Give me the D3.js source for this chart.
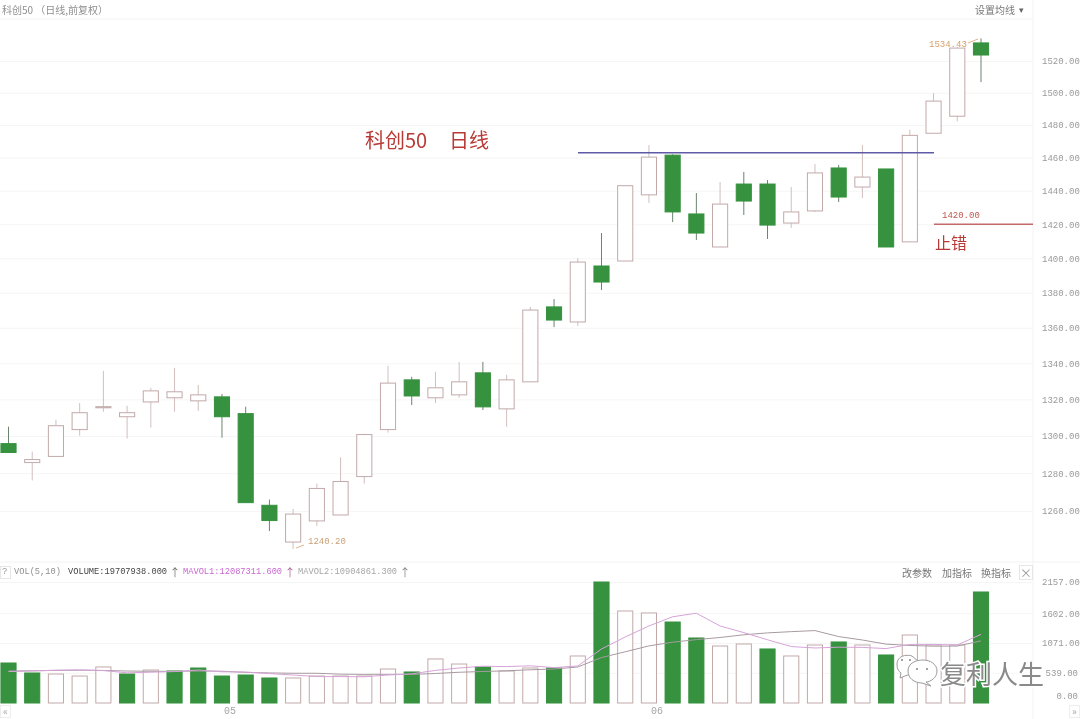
<!DOCTYPE html>
<html>
<head>
<meta charset="utf-8">
<script src="https://cdn.jsdelivr.net/npm/d3@7"></script>
<style>
  html, body { margin: 0; padding: 0; background: #fff; }
  svg { display: block; filter: blur(0.35px); }
  text { font-family: "Liberation Mono", monospace; }
  .cjk { font-family: "Noto Sans CJK SC", sans-serif; }
</style>
</head>
<body>
<svg id="chart" width="1080" height="719"></svg>
<script>
// Daily bars, in price units
const days = d3.range(1, 43);
const opens = [1295.9,1285.7,1289,1303.5,1315.4,1310.5,1318.6,1320.9,1319.2,1321.4,1312.2,1263,1243.8,1254.8,1257.9,1278.2,1303.5,1330.8,1320.9,1322.5,1334.7,1314.8,1329.7,1371.9,1363.3,1395.5,1398.4,1437.5,1461.5,1426.1,1406.6,1444,1444,1420.7,1427.9,1453.7,1442.2,1453.1,1409.6,1474.9,1485.4,1531.5];
const highs = [1305.1,1291.6,1308.9,1318,1335.8,1316.5,1326.4,1337.5,1328,1323,1316,1266,1261,1274.5,1288.5,1301.3,1338.6,1332.5,1335.3,1340.8,1340.8,1333.6,1371.9,1376.4,1400.1,1414.8,1443,1467.7,1462,1438.6,1445.2,1451.3,1446.4,1442.2,1456.1,1455.5,1467.7,1453.1,1477.1,1499.8,1528.8,1534.4];
const lows = [1291.1,1276.1,1289,1300.2,1313.2,1298.6,1304.6,1313.2,1313.7,1299.1,1264.4,1249.5,1240.2,1252.2,1257.9,1274.5,1301.9,1316.9,1318,1320.9,1314.2,1305,1329.7,1360.4,1361,1381.6,1398.4,1432.7,1421.3,1410.7,1406.6,1425.5,1411.3,1417.8,1427.3,1433.2,1435.6,1406.6,1409.6,1474.9,1482.3,1506.7];
const closes = [1291.1,1287.3,1305.6,1312.7,1316,1312.7,1324.7,1324.2,1322.5,1310.5,1264.4,1255,1258.4,1271.9,1275.6,1300.8,1329,1321.9,1326.4,1329.7,1315.9,1330.8,1370.1,1364.4,1397.8,1386.2,1443,1460.3,1427.3,1414.8,1432,1433.8,1419.5,1427.3,1450.7,1436.2,1448.2,1406.6,1473.6,1494.8,1528.2,1523.8];

// Volume panel, in units of 10 000
const volumes = [713,535,517,481,642,517,588,571,624,481,499,446,446,481,481,481,606,553,785,695,642,571,624,624,838,2157,1640,1605,1444,1159,1016,1052,963,838,1034,1088,1034,856,1212,1034,1034,1979];
const greenVolumeDays = [1,2,6,8,9,10,11,12,18,21,24,26,29,30,33,36,38,42];
const mavol1 = [560,570,585,590,578,538,549,560,588,556,553,524,499,471,471,467,499,520,581,624,656,649,663,631,660,963,1177,1373,1537,1601,1373,1255,1127,1006,981,995,991,970,1045,1045,1034,1223];
const mavol2 = [570,575,580,585,580,570,565,565,570,567,545,536,530,530,514,510,512,510,526,548,562,574,592,606,642,810,913,1018,1084,1130,1168,1216,1250,1272,1291,1184,1123,1049,1026,1013,1015,1107];

const priceTicks = [1260,1280,1300,1320,1340,1360,1380,1400,1420,1440,1460,1480,1500,1520];
const volumeTicks = [0,539,1071,1602,2157];
const monthDays = [10, 28];
const monthLabels = ["05", "06"];
const resistance = 1463;
const stopLoss = 1420;

const upStroke = "#c2a9a9", upWick = "#d2bfbf", downFill = "#36923f", downWick = "#6b8470";

const svg = d3.select("#chart");
const plotRight = 1033;

const x = d3.scaleBand().domain(days).range([-3.36, 992.86]).paddingInner(0.32).paddingOuter(0.16);
const y = d3.scaleLog().domain([1260, 1520]).range([511, 61]);
const yVol = d3.scaleLinear().domain([0, 2157]).range([703, 582]);
const cx = d => x(d) + x.bandwidth() / 2;

// Right hand axes, their ticks double as the faint grid
function styleAxis(g) {
  g.select(".domain").remove();
  g.selectAll(".tick line").attr("stroke", "#f5f5f5");
  g.selectAll(".tick text").attr("fill", "#9a9a9a").style("font-size", "9px")
    .style("font-family", "Liberation Mono, monospace");
}
svg.append("g").attr("transform", `translate(${plotRight},0)`)
  .call(d3.axisRight(y).tickValues(priceTicks).tickFormat(d3.format(".2f")).tickSize(-plotRight).tickPadding(9))
  .call(styleAxis);
svg.append("g").attr("transform", `translate(${plotRight},0)`)
  .call(d3.axisRight(yVol).tickValues(volumeTicks).tickFormat(d3.format(".2f")).tickSize(-plotRight).tickPadding(9))
  .call(styleAxis)
  .call(g => g.selectAll(".tick").filter(d => d === 0).select("line").remove())
  .call(g => g.selectAll(".tick").filter(d => d === 0).select("text").attr("y", -7).attr("x", 27));
svg.selectAll(".tick text").filter(function () { return this.textContent.length < 7; })
  .attr("text-anchor", "end").attr("x", 45);

// Month labels under the volume bars
svg.append("g").attr("transform", "translate(0,703)")
  .call(d3.axisBottom(x).tickValues(monthDays).tickFormat((d, i) => monthLabels[i]).tickSize(0).tickPadding(4))
  .call(g => g.select(".domain").remove())
  .call(g => g.selectAll("text").attr("dx", 8).attr("fill", "#a5a5a5").style("font-size", "10px")
    .style("font-family", "Liberation Mono, monospace"));

// Frame lines
[[0, 19, plotRight, 19], [plotRight, 0, plotRight, 719], [0, 562, 1080, 562]].forEach(l => {
  svg.append("line").attr("x1", l[0]).attr("y1", l[1]).attr("x2", l[2]).attr("y2", l[3])
    .attr("stroke", "#f3f3f3");
});

// Candles
const candles = svg.append("g").selectAll("g").data(days).enter().append("g");
const isUp = i => closes[i] >= opens[i];
candles.append("line")
  .attr("x1", d => cx(d)).attr("x2", d => cx(d))
  .attr("y1", (d, i) => y(highs[i])).attr("y2", (d, i) => y(lows[i]))
  .attr("stroke", (d, i) => isUp(i) ? upWick : downWick);
candles.append("rect")
  .attr("x", d => x(d) + 0.5).attr("width", x.bandwidth() - 1)
  .attr("y", (d, i) => y(Math.max(opens[i], closes[i])))
  .attr("height", (d, i) => Math.abs(y(opens[i]) - y(closes[i])))
  .attr("fill", (d, i) => isUp(i) ? "#fff" : downFill)
  .attr("stroke", (d, i) => isUp(i) ? upStroke : downFill);

// Volume bars, coloured on their own list since a few differ from the candle above
const isGreenVol = d => greenVolumeDays.includes(d);
svg.append("g").selectAll("rect").data(days).enter().append("rect")
  .attr("x", d => x(d) + 0.5).attr("width", x.bandwidth() - 1)
  .attr("y", (d, i) => yVol(volumes[i]))
  .attr("height", (d, i) => yVol(0) - yVol(volumes[i]))
  .attr("fill", d => isGreenVol(d) ? downFill : "#fff")
  .attr("stroke", d => isGreenVol(d) ? downFill : upStroke);

// Moving averages of volume
const maLine = vals => d3.line().x((d, i) => cx(days[i])).y(d => yVol(d))(vals);
svg.append("path").attr("d", maLine(mavol2)).attr("fill", "none").attr("stroke", "#a89aa2").attr("stroke-width", 1);
svg.append("path").attr("d", maLine(mavol1)).attr("fill", "none").attr("stroke", "#d6a3d8").attr("stroke-width", 1);

// Drawn annotations
svg.append("line").attr("x1", 578).attr("x2", 934).attr("y1", y(resistance)).attr("y2", y(resistance))
  .attr("stroke", "#5f5aa6").attr("stroke-width", 1.5);
svg.append("line").attr("x1", 934).attr("x2", plotRight).attr("y1", y(stopLoss)).attr("y2", y(stopLoss))
  .attr("stroke", "#c4696a").attr("stroke-width", 1.5);

function label(text, px, py, size, color, cls, anchor) {
  return svg.append("text").attr("x", px).attr("y", py).attr("class", cls || null)
    .attr("text-anchor", anchor || "start").attr("dominant-baseline", "central")
    .attr("fill", color).style("font-size", size + "px").text(text);
}

label("科创50", 365, 139, 20, "#b83a36", "cjk");
label("日线", 449, 139, 20, "#b83a36", "cjk");
label("止错", 935, 242, 16, "#b83a36", "cjk");
label("1420.00", 942, 216, 9, "#c0564f");
label("1534.43", 929, 45, 9, "#d8a06c");
label("1240.20", 308, 542, 9, "#c99f74");
[[968, 43, 978, 39], [304, 545, 296, 548]].forEach(l => {
  svg.append("line").attr("x1", l[0]).attr("y1", l[1]).attr("x2", l[2]).attr("y2", l[3])
    .attr("stroke", "#d8a06c").attr("stroke-width", 0.8);
});

// Header and indicator bar
label("科创50 （日线,前复权）", 2, 9, 10, "#8f8f8f", "cjk");
label("设置均线", 975, 9, 10, "#777", "cjk");
label("▾", 1019, 9, 9, "#666", "cjk");

svg.append("rect").attr("x", 0.5).attr("y", 566.5).attr("width", 10).attr("height", 12)
  .attr("fill", "none").attr("stroke", "#e6e6e6");
label("?", 2, 572, 9, "#9a9a9a");
label("VOL(5,10)", 14, 572, 8.7, "#8f8f8f");
label("VOLUME:19707938.000", 68, 572, 8.7, "#444");
label("↑", 175, 572, 11, "#777", "cjk", "middle");
label("MAVOL1:12087311.600", 183, 572, 8.7, "#c868cf");
label("↑", 290, 572, 11, "#b06aa0", "cjk", "middle");
label("MAVOL2:10904861.300", 298, 572, 8.7, "#a5a5a5");
label("↑", 405, 572, 11, "#888", "cjk", "middle");
label("改参数", 902, 572, 10, "#777", "cjk");
label("加指标", 942, 572, 10, "#777", "cjk");
label("换指标", 981, 572, 10, "#777", "cjk");
svg.append("rect").attr("x", 1019.5).attr("y", 565.5).attr("width", 13).attr("height", 14)
  .attr("fill", "none").attr("stroke", "#e6e6e6");
label("×", 1026, 572, 12, "#999", "cjk", "middle");
svg.append("rect").attr("x", 0.5).attr("y", 705.5).attr("width", 10).attr("height", 12)
  .attr("fill", "none").attr("stroke", "#eeeeee");
svg.append("rect").attr("x", 1069.5).attr("y", 705.5).attr("width", 10).attr("height", 12)
  .attr("fill", "none").attr("stroke", "#eeeeee");
label("«", 5.5, 710, 10, "#aaa", "cjk", "middle");
label("»", 1074.5, 710, 10, "#aaa", "cjk", "middle");

// Watermark: chat bubbles and name
const mark = svg.append("g").attr("fill", "#fff").attr("stroke", "#9a9a9a").attr("stroke-width", 1);
mark.append("path").attr("d", "M897 664 C897 656 906 654 912 656 L926 668 L905 676 L900 678 L901 673 C898 671 897 668 897 664 Z");
mark.append("path").attr("d", "M908 671 C908 663 916 660 923 660 C930 660 937 664 937 671 C937 678 930 682 926 682 L931 686 L922 683 C914 683 908 678 908 671 Z");
mark.selectAll("circle").data([[902, 660], [910, 660], [917, 669], [927, 669]]).enter().append("circle")
  .attr("cx", d => d[0]).attr("cy", d => d[1]).attr("r", 0.9).attr("fill", "#777").attr("stroke", "none");
label("复利人生", 940, 672, 26, "#8a8a8a", "cjk")
  .attr("stroke", "#fff").attr("stroke-width", 3).attr("paint-order", "stroke");
</script>
</body>
</html>
